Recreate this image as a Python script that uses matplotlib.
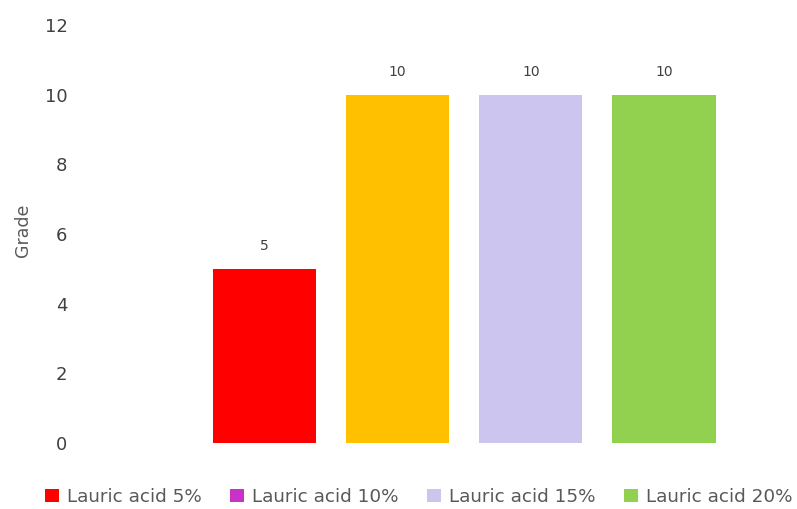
import matplotlib
matplotlib.use("Agg")
import matplotlib.pyplot as plt
from matplotlib.patches import Patch

# Data
series = ["Lauric acid 5%", "Lauric acid 10%", "Lauric acid 15%", "Lauric acid 20%"]
grades = [5, 10, 10, 10]
bar_colors = ["#FF0000", "#FFC000", "#CCC5F0", "#92D050"]
legend_colors = ["#FF0000", "#C832C8", "#CCC5F0", "#92D050"]
y_ticks = [0, 2, 4, 6, 8, 10, 12]

fig = plt.figure(figsize=(7.97, 5.09), dpi=100)
ax = fig.add_axes([80 / 797, 1 - 443 / 509, 710 / 797, (443 - 25) / 509])

x = list(range(len(series)))
bars = ax.bar(x, grades, width=0.775, color=bar_colors, zorder=2)

for rect, v in zip(bars, grades):
    ax.text(rect.get_x() + rect.get_width() / 2, v + 0.45, f"{v}",
            ha="center", va="bottom", fontsize=10, color="#404040")

ax.set_xlim(-1.387, 3.947)
ax.set_ylim(0, 12)
ax.set_yticks(y_ticks)
ax.set_yticklabels([str(t) for t in y_ticks], fontsize=13, color="#404040")
ax.set_xticks([])
ax.tick_params(axis="y", length=0, pad=9)
for s in ax.spines.values():
    s.set_visible(False)

ax.set_ylabel("Grade", fontsize=12.5, color="#595959")
ax.yaxis.set_label_coords(-48 / 710, 0.51)

handles = [Patch(facecolor=c, edgecolor="none") for c in legend_colors]
fig.legend(handles, series, loc="center", bbox_to_anchor=(419 / 797, 1 - 497 / 509),
           ncol=4, frameon=False, fontsize=13.2, handlelength=0.75, handleheight=0.75,
           handletextpad=0.45, columnspacing=1.55, labelcolor="#595959")

fig.savefig("out.png", dpi=100)
